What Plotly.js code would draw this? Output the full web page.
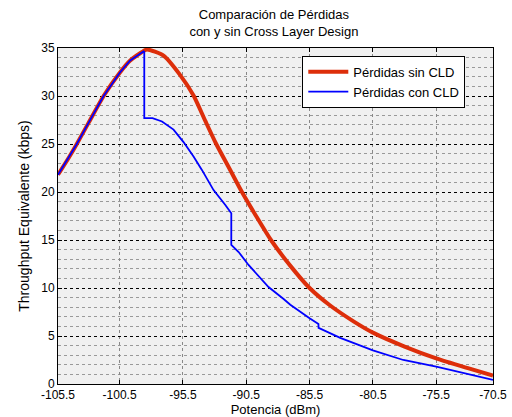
<!DOCTYPE html>
<html>
<head>
<meta charset="utf-8">
<script src="https://cdn.plot.ly/plotly-3.0.1.min.js"></script>
<style>html,body{margin:0;padding:0;background:#fff;}#chart{width:512px;height:417px;}</style>
</head>
<body>
<div id="chart"></div>
<script>
// Pérdidas sin CLD (red)
const xSin = [-105.36, -104.5, -103.92, -102.95, -101.76, -100.47, -99.66, -98.6, -98.33, -97.03, -95.7, -94.66, -93.73, -92.87, -91.85, -90.84, -89.7, -88.55, -86.95, -85.5, -83.9, -82.0, -80.5, -78.0, -75.5, -73.0, -71.02];
const ySin = [21.8, 23.6, 24.9, 27.2, 30.0, 32.45, 33.7, 34.7, 34.85, 34.2, 32.15, 30.05, 27.4, 25.0, 22.5, 20.0, 17.45, 15.0, 12.2, 10.0, 8.2, 6.5, 5.35, 3.9, 2.67, 1.65, 0.87];
// Pérdidas con CLD (blue)
const xCon = [-105.36, -104.5, -103.92, -102.95, -101.76, -100.47, -99.66, -98.6, -98.55, -98.55, -97.9, -97.15, -96.24, -95.45, -94.66, -94.0, -93.08, -92.15, -91.68, -91.68, -91.1, -90.32, -89.39, -88.74, -87.55, -87.02, -85.5, -84.8, -84.79, -83.87, -83.08, -80.5, -78.1, -75.5, -71.02];
const yCon = [21.8, 23.6, 24.9, 27.2, 30.0, 32.45, 33.7, 34.65, 34.6, 27.7, 27.7, 27.35, 26.5, 25.2, 23.7, 22.3, 20.2, 18.65, 17.78, 14.5, 13.75, 12.4, 11.0, 10.1, 8.85, 8.25, 6.85, 6.25, 5.85, 5.3, 4.8, 3.5, 2.5, 1.8, 0.42];
// axis ticks
const xTickVals = [-105.36, -100.5, -95.5, -90.5, -85.5, -80.5, -75.5, -71.02];
const xTickText = ['-105.5', '-100.5', '-95.5', '-90.5', '-85.5', '-80.5', '-75.5', '-70.5'];
const yTickVals = [0, 5, 10, 15, 20, 25, 30, 35];

const font = {family: 'Liberation Sans, Arial, sans-serif', size: 12, color: '#000'};

const traces = [
  {x: xSin, y: ySin, type: 'scatter', mode: 'lines', name: 'Pérdidas sin CLD',
   line: {color: '#dd2e0a', width: 4, shape: 'spline', smoothing: 0.6}},
  {x: xCon, y: yCon, type: 'scatter', mode: 'lines', name: 'Pérdidas con CLD',
   line: {color: '#0000ff', width: 1.8}}
];

const layout = {
  width: 512, height: 417,
  margin: {l: 58, r: 19, t: 48, b: 33, pad: 0},
  paper_bgcolor: '#ffffff',
  plot_bgcolor: '#f0f0f0',
  font: font,
  showlegend: true,
  title: {text: 'Comparación de Pérdidas<br>con y sin Cross Layer Design', font: {size: 13, color: '#000'},
          x: 0.535, xref: 'container', xanchor: 'center', y: 0.955, yref: 'container', yanchor: 'top'},
  xaxis: {
    range: [-105.36, -71.02], tickvals: xTickVals, ticktext: xTickText,
    ticks: 'inside', ticklen: 4, tickcolor: '#000', tickwidth: 1,
    showline: true, linecolor: '#000', linewidth: 1, mirror: 'ticks',
    showgrid: true, gridcolor: '#888', griddash: 'dot', gridwidth: 1,
    zeroline: false, tickfont: {size: 12, color: '#000'},
    title: {text: 'Potencia (dBm)', font: {size: 13, color: '#000'}, standoff: 3}
  },
  yaxis: {
    range: [0, 35], tickvals: yTickVals,
    ticks: 'inside', ticklen: 4, tickcolor: '#000', tickwidth: 1,
    showline: true, linecolor: '#000', linewidth: 1, mirror: 'ticks',
    showgrid: true, gridcolor: '#000', griddash: 'dot', gridwidth: 1,
    minor: {dtick: 1, showgrid: true, gridcolor: '#999', griddash: 'dot', gridwidth: 1, ticks: ''},
    zeroline: false, tickfont: {size: 12, color: '#000'},
    title: {text: 'Throughput Equivalente (kbps)', font: {size: 14, color: '#000'}, standoff: 8}
  },
  legend: {x: 0.5616, y: 0.977, xanchor: 'left', yanchor: 'top', bgcolor: '#ffffff',
           bordercolor: '#000', borderwidth: 1, font: {size: 13, color: '#000'}, itemwidth: 40,
           tracegroupgap: 0}
};

Plotly.newPlot('chart', traces, layout, {displayModeBar: false, staticPlot: true});
</script>
</body>
</html>
